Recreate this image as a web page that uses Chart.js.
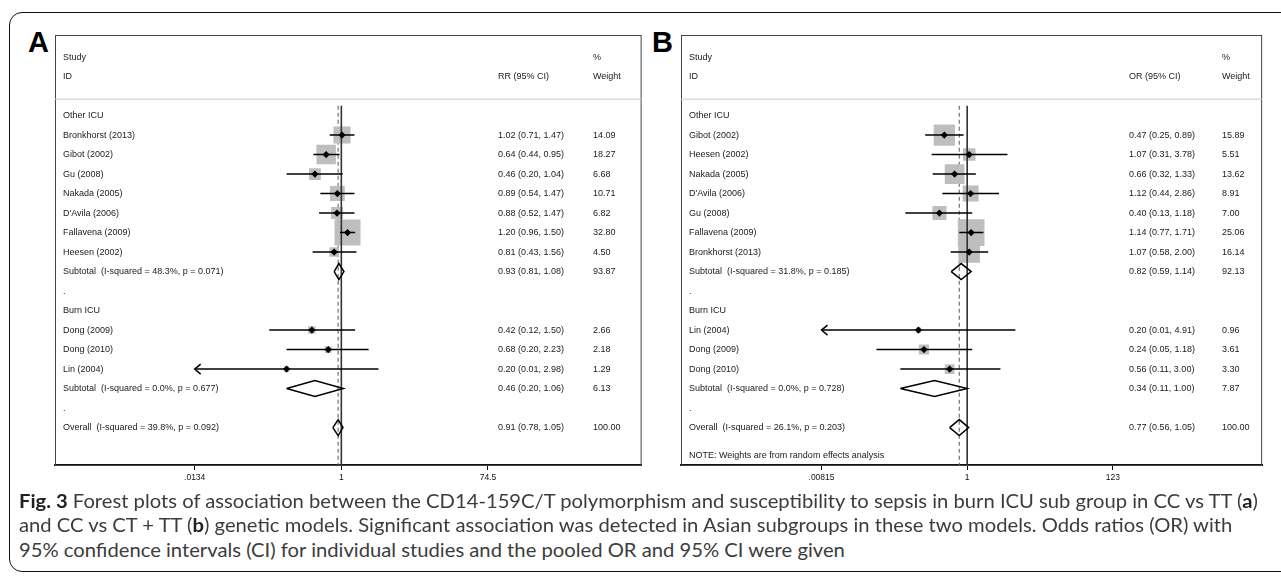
<!DOCTYPE html>
<html>
<head>
<meta charset="utf-8">
<script src="https://cdn.jsdelivr.net/npm/chart.js@4.4.1/dist/chart.umd.min.js"></script>
<style>
  body { margin: 0; width: 1281px; height: 580px; overflow: hidden; background: #fff; position: relative; }
  .frame { position: absolute; left: 9px; top: 12px; width: 1292px; height: 560px; border: 1.5px solid #111; border-radius: 13px; box-sizing: border-box; }
  .letter { position: absolute; font: bold 29px "Liberation Sans", Arial, sans-serif; color: #000; line-height: 1; }
  canvas { position: absolute; }
  .cap { position: absolute; left: 19px; font-family: Lato, sans-serif; font-size: 19px; line-height: 24px; color: #3c3c3c; white-space: nowrap; transform-origin: 0 0; }
  .cap b { color: #222; }
</style>
</head>
<body>
<div class="frame"></div>
<div class="letter" style="left:28px; top:28px;">A</div>
<div class="letter" style="left:652px; top:28px;">B</div>
<canvas id="chartA" width="660" height="495" style="left:0; top:0;"></canvas>
<canvas id="chartB" width="621" height="495" style="left:660px; top:0;"></canvas>
<div class="cap" id="cap1" style="top:489px;"><b>Fig. 3</b> Forest plots of association between the CD14-159C/T polymorphism and susceptibility to sepsis in burn ICU sub group in CC vs TT (<b>a</b>)</div>
<div class="cap" id="cap2" style="top:513px;">and CC vs CT + TT (<b>b</b>) genetic models. Significant association was detected in Asian subgroups in these two models. Odds ratios (OR) with</div>
<div class="cap" id="cap3" style="top:538px;">95% confidence intervals (CI) for individual studies and the pooled OR and 95% CI were given</div>
<script>
// panel A : CC vs TT
const labelsA = ['Other ICU', 'Bronkhorst (2013)', 'Gibot (2002)', 'Gu (2008)', 'Nakada (2005)', "D'Avila (2006)",
  'Fallavena (2009)', 'Heesen (2002)', 'Subtotal  (I-squared = 48.3%, p = 0.071)', '.',
  'Burn ICU', 'Dong (2009)', 'Dong (2010)', 'Lin (2004)', 'Subtotal  (I-squared = 0.0%, p = 0.677)', '.',
  'Overall  (I-squared = 39.8%, p = 0.092)']
const kindA = ['h', 's', 's', 's', 's', 's', 's', 's', 'd', '', 'h', 's', 's', 's', 'd', '', 'd']
const estA = [null, 1.02, 0.64, 0.46, 0.89, 0.88, 1.20, 0.81, 0.93, null, null, 0.42, 0.68, 0.20, 0.46, null, 0.91]
const lowA = [null, 0.71, 0.44, 0.20, 0.54, 0.52, 0.96, 0.43, 0.81, null, null, 0.12, 0.20, 0.01, 0.20, null, 0.78]
const highA = [null, 1.47, 0.95, 1.04, 1.47, 1.47, 1.50, 1.56, 1.08, null, null, 1.50, 2.23, 2.98, 1.06, null, 1.05]
const weightA = [null, 14.09, 18.27, 6.68, 10.71, 6.82, 32.80, 4.50, 93.87, null, null, 2.66, 2.18, 1.29, 6.13, null, 100.00]
const ticksA = [0.0134, 1, 74.5]
const tickLabelsA = ['.0134', '1', '74.5']

// panel B : CC vs CT + TT
const labelsB = ['Other ICU', 'Gibot (2002)', 'Heesen (2002)', 'Nakada (2005)', "D'Avila (2006)", 'Gu (2008)',
  'Fallavena (2009)', 'Bronkhorst (2013)', 'Subtotal  (I-squared = 31.8%, p = 0.185)', '.',
  'Burn ICU', 'Lin (2004)', 'Dong (2009)', 'Dong (2010)', 'Subtotal  (I-squared = 0.0%, p = 0.728)', '.',
  'Overall  (I-squared = 26.1%, p = 0.203)']
const kindB = ['h', 's', 's', 's', 's', 's', 's', 's', 'd', '', 'h', 's', 's', 's', 'd', '', 'd']
const estB = [null, 0.47, 1.07, 0.66, 1.12, 0.40, 1.14, 1.07, 0.82, null, null, 0.20, 0.24, 0.56, 0.34, null, 0.77]
const lowB = [null, 0.25, 0.31, 0.32, 0.44, 0.13, 0.77, 0.58, 0.59, null, null, 0.008, 0.05, 0.11, 0.11, null, 0.56]
const highB = [null, 0.89, 3.78, 1.33, 2.86, 1.18, 1.71, 2.00, 1.14, null, null, 4.91, 1.18, 3.00, 1.00, null, 1.05]
const weightB = [null, 15.89, 5.51, 13.62, 8.91, 7.00, 25.06, 16.14, 92.13, null, null, 0.96, 3.61, 3.30, 7.87, null, 100.00]
const ticksB = [0.00815, 1, 123]
const tickLabelsB = ['.00815', '1', '123']

const FONT = '"Liberation Sans", Arial, sans-serif'
const ROW0 = 3

function makeForest(id, p) {
  const datasets = []
  const rowOf = i => ROW0 + i
  const overall = p.est[p.est.length - 1]

  // gray weight boxes
  const sq = [], sqR = []
  p.kind.forEach((k, i) => {
    if (k === 's') {
      sq.push({ x: p.est[i], y: rowOf(i) })
      sqR.push(p.boxK * Math.sqrt(p.weight[i]) / Math.SQRT2)
    }
  })
  datasets.push({ data: sq, pointStyle: 'rect', pointRadius: sqR, pointHoverRadius: sqR,
    backgroundColor: '#bebebe', borderWidth: 0, order: 5 })

  // line of no effect and overall estimate
  datasets.push({ data: [{ x: 1, y: 2.5 }, { x: 1, y: p.yMax }], showLine: true, pointRadius: 0,
    borderColor: '#333', borderWidth: 1.6, order: 3 })
  datasets.push({ data: [{ x: overall, y: 2.5 }, { x: overall, y: p.yMax }], showLine: true, pointRadius: 0,
    borderColor: '#666', borderWidth: 1.1, borderDash: [4, 3], order: 6 })

  const pts = []
  p.kind.forEach((k, i) => {
    if (k === 's') {
      const lo = Math.max(p.low[i], p.ticks[0])
      const hi = Math.min(p.high[i], p.ticks[p.ticks.length - 1])
      datasets.push({ data: [{ x: lo, y: rowOf(i) }, { x: hi, y: rowOf(i) }], showLine: true, pointRadius: 0,
        borderColor: '#000', borderWidth: 1.5, order: 2 })
      pts.push({ x: p.est[i], y: rowOf(i) })
    } else if (k === 'd') {
      const r = rowOf(i), h = 0.41
      datasets.push({ data: [{ x: p.low[i], y: r }, { x: p.est[i], y: r - h }, { x: p.high[i], y: r },
        { x: p.est[i], y: r + h }, { x: p.low[i], y: r }],
        showLine: true, pointRadius: 0, borderColor: '#000', borderWidth: 1.5, fill: false, order: 1 })
    }
  })
  datasets.push({ data: pts, pointStyle: 'rectRot', pointRadius: 3.6, backgroundColor: '#000', borderWidth: 0, order: 1 })

  const forestText = {
    id: 'forestText',
    afterDraw(chart) {
      const { ctx, chartArea: a } = chart
      const ys = chart.scales.y, xs = chart.scales.x
      ctx.save()
      // box
      ctx.strokeStyle = '#444'
      ctx.lineWidth = 1
      ctx.strokeRect(a.left + 0.5, a.top + 0.5, a.right - a.left - 1, a.bottom - a.top)
      ctx.strokeStyle = '#c8c8c8'
      ctx.beginPath()
      ctx.moveTo(a.left, ys.getPixelForValue(2.16))
      ctx.lineTo(a.right, ys.getPixelForValue(2.16))
      ctx.stroke()

      ctx.fillStyle = '#1a1a1a'
      ctx.font = '9px ' + FONT
      ctx.textBaseline = 'middle'
      ctx.fillText('Study', p.colLabel, ys.getPixelForValue(0))
      ctx.fillText('ID', p.colLabel, ys.getPixelForValue(1))
      ctx.fillText(p.effect + ' (95% CI)', p.colCI, ys.getPixelForValue(1))
      ctx.fillText('%', p.colW, ys.getPixelForValue(0))
      ctx.fillText('Weight', p.colW, ys.getPixelForValue(1))

      p.labels.forEach((lab, i) => {
        const y = ys.getPixelForValue(rowOf(i))
        ctx.fillText(lab, p.colLabel, y)
        if (p.est[i] != null) {
          ctx.fillText(`${p.est[i].toFixed(2)} (${p.low[i].toFixed(2)}, ${p.high[i].toFixed(2)})`, p.colCI, y)
          ctx.fillText(p.weight[i].toFixed(2), p.colW, y)
        }
        // arrow where the CI runs past the axis
        if (p.kind[i] === 's' && p.low[i] < p.ticks[0]) {
          const x = xs.getPixelForValue(p.ticks[0])
          ctx.strokeStyle = '#000'
          ctx.lineWidth = 1.5
          ctx.beginPath()
          ctx.moveTo(x + 6, y - 5)
          ctx.lineTo(x, y)
          ctx.lineTo(x + 6, y + 5)
          ctx.stroke()
        }
      })
      if (p.note) ctx.fillText(p.note, p.colLabel, ys.getPixelForValue(20.45))
      ctx.restore()
    }
  }

  return new Chart(document.getElementById(id), {
    type: 'scatter',
    data: { datasets },
    options: {
      responsive: false,
      animation: false,
      layout: { padding: p.pad },
      plugins: { legend: { display: false }, tooltip: { enabled: false } },
      scales: {
        x: {
          type: 'logarithmic',
          min: p.xMin, max: p.xMax,
          afterBuildTicks: s => { s.ticks = p.ticks.map(v => ({ value: v })) },
          afterFit: s => { s.height = 25 },
          ticks: { callback: (v, i) => p.tickLabels[i], autoSkip: false, maxRotation: 0, padding: 3,
            color: '#111', font: { size: 8.5, family: FONT } },
          grid: { drawOnChartArea: false, tickLength: 5, color: '#111', lineWidth: 1 },
          border: { display: true, color: '#111', width: 2 }
        },
        y: { type: 'linear', reverse: true, display: false, min: -1.13, max: p.yMax }
      }
    },
    plugins: [forestText]
  })
}

makeForest('chartA', {
  labels: labelsA, kind: kindA, est: estA, low: lowA, high: highA, weight: weightA,
  ticks: ticksA, tickLabels: tickLabelsA, effect: 'RR',
  xMin: Math.exp(-8.42), xMax: Math.exp(8.83), yMax: 20.92, boxK: 4.54,
  pad: { left: 55, top: 35, right: 15, bottom: 5 },
  colLabel: 63, colCI: 498, colW: 593
})

makeForest('chartB', {
  labels: labelsB, kind: kindB, est: estB, low: lowB, high: highB, weight: weightB,
  ticks: ticksB, tickLabels: tickLabelsB, effect: 'OR',
  xMin: Math.exp(-9.45), xMax: Math.exp(9.74), yMax: 20.92, boxK: 5.33,
  pad: { left: 21, top: 35, right: 7, bottom: 5 },
  colLabel: 29, colCI: 469, colW: 562,
  note: 'NOTE: Weights are from random effects analysis'
})

// caption: one horizontal squeeze for all lines, taken from the first line
const cap1 = document.getElementById('cap1')
const capScale = 1239 / cap1.getBoundingClientRect().width
document.querySelectorAll('.cap').forEach(el => {
  el.style.transform = `scaleX(${capScale})`
})
</script>
</body>
</html>
